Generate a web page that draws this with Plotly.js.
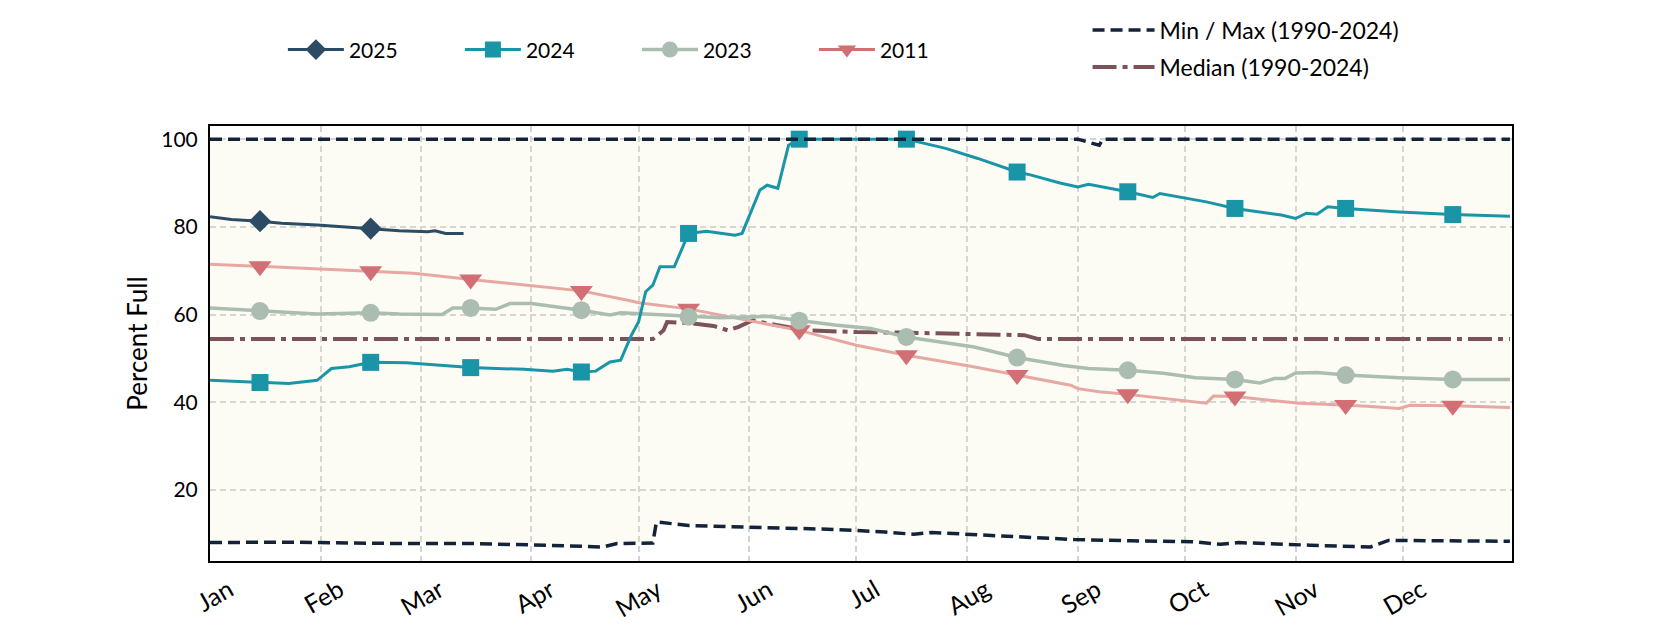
<!DOCTYPE html>
<html><head><meta charset="utf-8">
<script src="https://cdn.plot.ly/plotly-3.0.1.min.js"></script>
<style>html,body{margin:0;padding:0;background:#fff}</style>
</head><body>
<div id="chart" style="width:1680px;height:630px"></div>
<script>
const YEAR = '2001-';
const monthLabels = ['Jan','Feb','Mar','Apr','May','Jun','Jul','Aug','Sep','Oct','Nov','Dec'];
const monthStarts = ['01-01','02-01','03-01','04-01','05-01','06-01','07-01','08-01','09-01','10-01','11-01','12-01'];
const yTicks = [20, 40, 60, 80, 100];

const minDates = ['01-01','01-22','02-21','03-14','04-05','04-21','04-25','05-05','05-06','05-15','06-01','06-25','07-09','07-17','07-22','08-06','08-31','09-16','10-03','10-11','10-16','11-05','11-22','11-27','12-31'];
const minVals  = [8.0,8.1,7.8,7.8,7.4,7.0,7.8,7.9,12.7,11.9,11.5,11.0,10.4,9.9,10.3,9.7,8.7,8.4,8.2,7.6,8.0,7.4,7.0,8.5,8.3];

const maxDates = ['01-01','09-01','09-04','09-07','09-08','12-31'];
const maxVals  = [100,100,99.3,98.6,100,100];

const medDates = ['01-01','05-05','05-08','05-09','05-15','05-22','05-26','05-29','06-02','06-06','06-17','07-01','07-13','08-02','08-17','08-21','12-31'];
const medVals  = [54.4,54.4,56.4,58.3,58.1,57.4,56.4,57.2,58.7,58.0,56.4,56.0,55.9,55.5,55.3,54.4,54.4];

const d2025 = ['01-01','01-07','01-15','01-21','01-31','02-15','02-23','03-03','03-05','03-08','03-13'];
const v2025 = [82.3,81.7,81.3,80.8,80.4,79.6,79.1,78.9,79.1,78.5,78.5];

const d2024 = ['01-01','01-15','01-23','01-31','02-04','02-09','02-15','02-25','03-15','03-30','04-07','04-11','04-15','04-19','04-23','04-26','04-29','05-01','05-03','05-05','05-07','05-11','05-15','05-20','05-28','05-30','06-04','06-06','06-09','06-12','06-15','06-30','07-15','07-26','08-04','08-15','08-19','08-27','09-01','09-04','09-15','09-22','09-24','10-07','10-15','10-28','11-01','11-04','11-07','11-10','11-15','11-30','12-15','12-31'];
const v2024 = [45.0,44.5,44.3,45.0,47.7,48.1,49.1,49.0,47.9,47.5,47.1,47.5,46.9,47.1,49.2,49.6,55.3,58.3,65.2,66.7,70.9,70.9,78.5,79.0,78.1,78.5,88.4,89.5,88.8,98.6,100,100,100,97.9,95.6,92.5,91.8,90.0,89.1,89.7,88.0,86.7,87.6,85.7,84.2,82.7,81.9,83.1,82.9,84.6,84.2,83.4,82.8,82.4];

const d2023 = ['01-01','01-15','01-21','01-31','02-15','02-23','03-07','03-10','03-15','03-22','03-26','04-01','04-15','04-23','04-26','05-08','05-15','05-24','06-06','06-15','06-25','07-05','07-15','08-03','08-15','08-28','09-04','09-15','09-25','10-04','10-15','10-22','10-26','10-29','11-01','11-07','11-15','11-30','12-15','12-31'];
const v2023 = [61.5,60.8,60.4,60.1,60.4,60.1,60.0,61.5,61.5,61.2,62.5,62.5,61.0,59.9,60.4,59.9,59.5,59.3,59.6,58.6,57.6,56.8,54.9,52.6,50.2,48.4,47.7,47.3,46.6,45.6,45.2,44.4,45.4,45.4,46.7,46.8,46.2,45.6,45.2,45.2];

const d2011 = ['01-01','01-15','01-31','02-15','02-27','03-15','03-28','04-06','04-15','04-29','05-01','05-15','05-24','06-15','07-01','07-15','08-02','08-15','08-30','09-01','09-07','09-15','09-26','10-07','10-09','10-15','10-24','11-02','11-11','11-15','11-21','11-30','12-03','12-15','12-31'];
const v2011 = [71.5,71.0,70.3,69.9,69.4,68.0,66.9,66.2,65.4,63.1,62.7,61.3,59.9,56.4,53.0,50.7,48.2,46.2,43.9,43.1,42.4,41.8,40.8,39.8,41.4,41.3,40.5,39.8,39.5,39.4,39.1,38.6,39.3,39.2,38.8];

const toDate = a => a.map(d => YEAR + d);
function marks(dates, vals) {
  const d = [], v = [];
  dates.forEach((s, i) => { if (s.endsWith('-15')) { d.push(s); v.push(vals[i]); } });
  return {d, v};
}

const FONT = 'Lato, "Open Sans", sans-serif';
const cMinMax = '#13233a', cMed = '#7a5258';
const traces = [];

// band between min and max
traces.push({x: toDate(minDates), y: minVals, mode: 'lines', line: {width: 0, color: 'rgba(0,0,0,0)'}, showlegend: false, hoverinfo: 'skip'});
traces.push({x: toDate(maxDates), y: maxVals, mode: 'lines', line: {width: 0, color: 'rgba(0,0,0,0)'}, fill: 'tonexty', fillcolor: 'rgba(238,238,196,0.18)', showlegend: false, hoverinfo: 'skip'});

// median
traces.push({x: toDate(medDates), y: medVals, mode: 'lines', name: 'Median (1990-2024)', legend: 'legend2', legendrank: 2,
  line: {color: cMed, width: 4, dash: '24px,6px,5px,6px'}});

function addSeries(name, dates, vals, lineColor, markColor, symbol, size, legSize, lw, rank) {
  traces.push({x: toDate(dates), y: vals, mode: 'lines', line: {color: lineColor, width: lw}, showlegend: false, name});
  const m = marks(dates, vals);
  traces.push({x: toDate(m.d), y: m.v, mode: 'markers', marker: {symbol, size, color: markColor}, showlegend: false, name});
  traces.push({x: [null], y: [null], mode: 'lines+markers', name, legend: 'legend', legendrank: rank,
    line: {color: markColor, width: lw}, marker: {symbol, size: legSize, color: markColor}});
}
addSeries('2011', d2011, v2011, '#e7a7a2', '#d26f75', 'triangle-down', 20, 16, 3, 4);
addSeries('2023', d2023, v2023, '#abbdb0', '#abbdb0', 'circle', 18, 16, 3.5, 3);
addSeries('2024', d2024, v2024, '#1a95a8', '#1a95a8', 'square', 17, 16, 3, 2);
addSeries('2025', d2025, v2025, '#2b4c64', '#2b4c64', 'diamond', 17, 16, 3, 1);

// min / max lines on top
traces.push({x: toDate(minDates), y: minVals, mode: 'lines', name: 'Min / Max (1990-2024)', legend: 'legend2', legendrank: 1,
  legendgroup: 'mm', line: {color: cMinMax, width: 3.5, dash: '12px,6px'}});
traces.push({x: toDate(maxDates), y: maxVals, mode: 'lines', name: 'Max', legendgroup: 'mm', showlegend: false,
  line: {color: cMinMax, width: 3.5, dash: '12px,6px'}});

const axisCommon = {
  showgrid: true, gridcolor: '#d2d2d2', gridwidth: 1.5, griddash: '6px,4px',
  showline: true, mirror: true, linecolor: '#000', linewidth: 2,
  ticks: '', zeroline: false
};

const layout = {
  width: 1680, height: 630,
  margin: {l: 210, r: 168, t: 126, b: 69, autoexpand: false},
  paper_bgcolor: '#fff', plot_bgcolor: '#fff',
  font: {family: FONT, size: 20, color: '#000'},
  xaxis: Object.assign({}, axisCommon, {
    type: 'date', range: [YEAR + '01-01', YEAR + '12-31 14:00'],
    tickvals: toDate(monthStarts), ticktext: monthLabels, tickangle: -30,
    tickfont: {family: FONT, size: 25, color: '#000'},
    ticklabelshift: 19, ticklabelstandoff: 3
  }),
  yaxis: Object.assign({}, axisCommon, {
    range: [3.8, 103.0], tickvals: yTicks, ticktext: yTicks.map(String),
    tickfont: {family: FONT, size: 21, color: '#000'},
    ticklabelstandoff: 6,
    title: {text: 'Percent Full', font: {family: FONT, size: 26, color: '#000'}, standoff: 6}
  }),
  legend: {orientation: 'h', x: 0.056, xanchor: 'left', y: 1.175, yanchor: 'middle',
    itemwidth: 56, entrywidth: 106, entrywidthmode: 'pixels',
    font: {family: FONT, size: 21, color: '#000'}, bgcolor: 'rgba(0,0,0,0)', traceorder: 'normal'},
  legend2: {orientation: 'v', x: 0.674, xanchor: 'left', y: 1.178, yanchor: 'middle',
    itemwidth: 62, tracegroupgap: 4, font: {family: FONT, size: 23, color: '#000'}, bgcolor: 'rgba(0,0,0,0)'},
  showlegend: true
};

Plotly.newPlot('chart', traces, layout, {displayModeBar: false, responsive: false});
</script>
</body></html>
